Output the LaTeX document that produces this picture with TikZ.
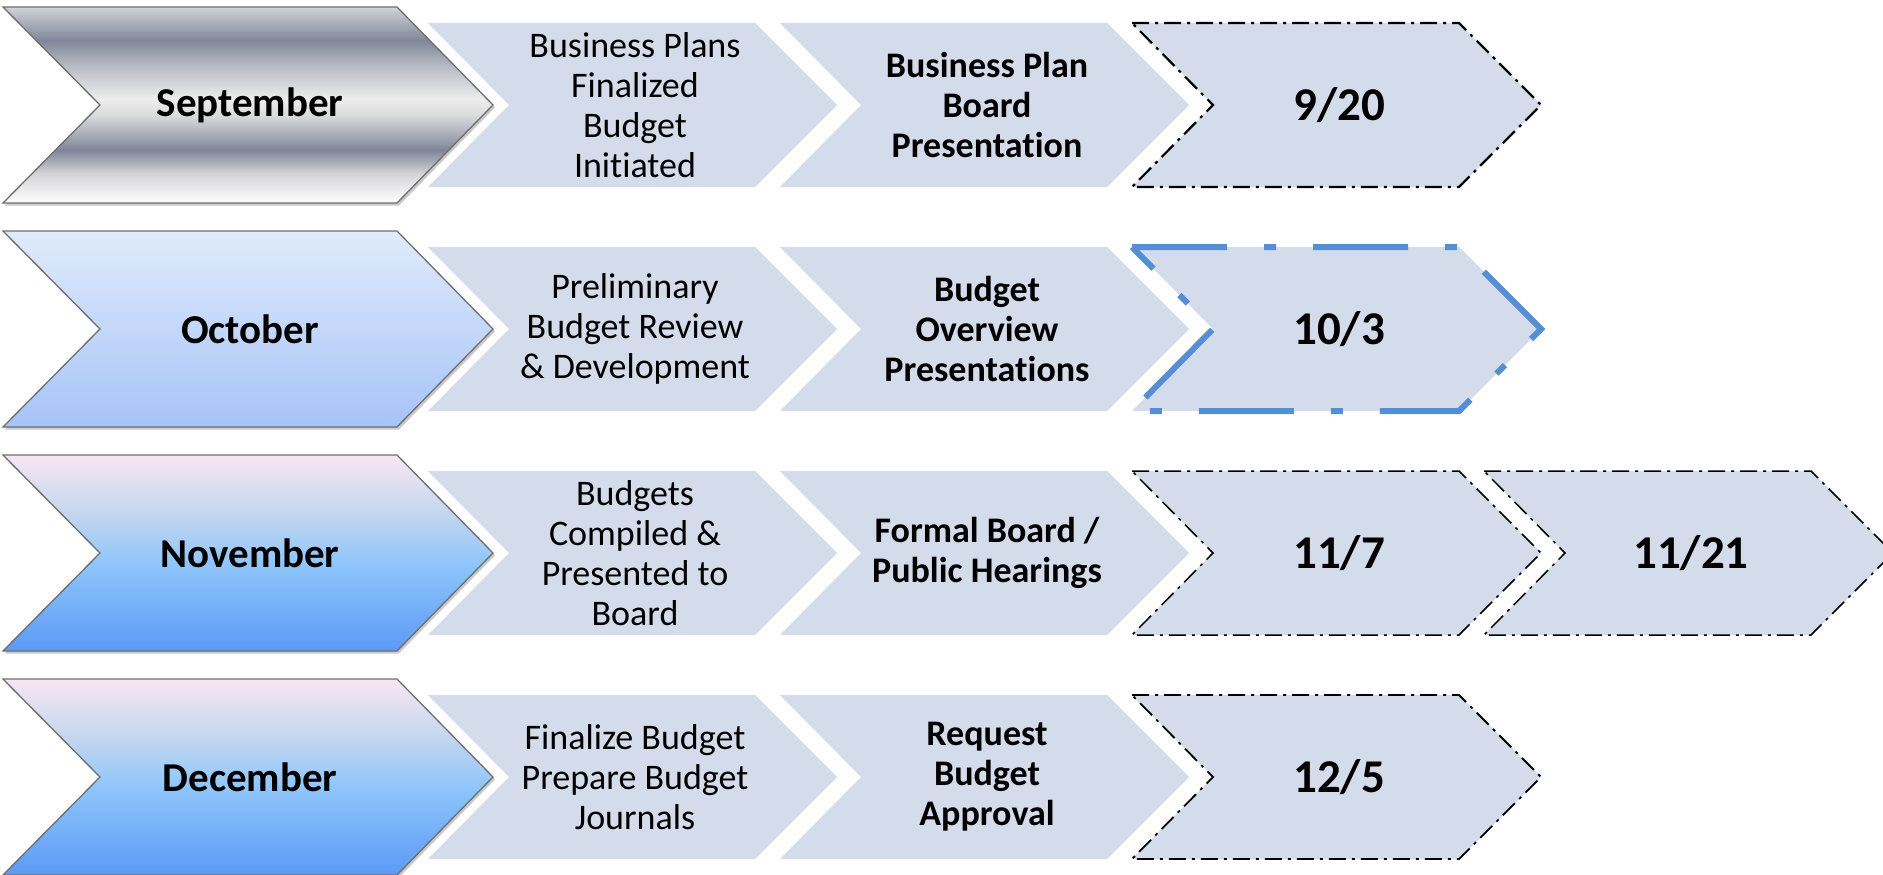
\documentclass[tikz,border=0pt]{standalone}
\usepackage{fontspec}
\setmainfont{Carlito}[Ligatures={NoCommon}]
\usetikzlibrary{shadows}

\definecolor{lightfill}{HTML}{D4DBEA}
\definecolor{blueline}{HTML}{558ED5}
\definecolor{chevline}{HTML}{6E6E6E}
% silver
\definecolor{svA}{HTML}{D2D3D7}
\definecolor{svB}{HTML}{80869A}
\definecolor{svC}{HTML}{B8BBC4}
\definecolor{svD}{HTML}{EDEDED}
\definecolor{svE}{HTML}{DCDCDE}
\definecolor{svF}{HTML}{A9ADB7}
\definecolor{svG}{HTML}{7F8598}
\definecolor{svH}{HTML}{D4D4D6}
\definecolor{svI}{HTML}{FFFFFF}
% october
\definecolor{ocTop}{HTML}{E0EAFA}
\definecolor{ocBot}{HTML}{A6C4F9}
% nov / dec
\definecolor{ndA}{HTML}{F8E6F3}
\definecolor{ndB}{HTML}{C3D6EE}
\definecolor{ndC}{HTML}{8EC5FC}
\definecolor{ndD}{HTML}{5B9AF6}

\pgfdeclareverticalshading{silvershade}{100bp}{%
  color(0bp)=(svI); color(25bp)=(svI); color(32.5bp)=(svH);
  color(38.5bp)=(svG); color(42.5bp)=(svF); color(47.5bp)=(svE);
  color(51.5bp)=(svD); color(60bp)=(svC); color(66.5bp)=(svB);
  color(75bp)=(svA); color(100bp)=(svA)}
\pgfdeclareverticalshading{octshade}{100bp}{%
  color(0bp)=(ocBot); color(25bp)=(ocBot); color(75bp)=(ocTop); color(100bp)=(ocTop)}
\pgfdeclareverticalshading{ndshade}{100bp}{%
  color(0bp)=(ndD); color(25bp)=(ndD); color(47bp)=(ndC);
  color(60bp)=(ndB); color(75bp)=(ndA); color(100bp)=(ndA)}

\tikzset{
  bigshape/.style={draw=chevline, line width=1.3pt, line join=miter,
    drop shadow={shadow xshift=2pt, shadow yshift=-2.5pt, opacity=.35, fill=black!60}},
  lightshape/.style={fill=lightfill},
  dateshape/.style={fill=lightfill, draw=black, line width=2.2pt,
    dash pattern=on 17pt off 6pt on 3pt off 6pt},
  bluedate/.style={fill=lightfill, draw=blueline, line width=6pt, line join=miter,
    dash pattern=on 95pt off 37pt on 12pt off 37pt},
  monthtext/.style={font=\fontsize{41}{48}\selectfont\bfseries, align=center},
  plaintext/.style={font=\fontsize{36}{40}\selectfont, align=center},
  boldtext/.style={font=\fontsize{36}{40}\selectfont\bfseries, align=center},
  datetext/.style={font=\fontsize{47}{52}\selectfont\bfseries, align=center},
}

\newcommand\bigchev[2]{% #1 style, #2 centre y
  \path[bigshape,#1] (3,#2-98) -- (397,#2-98) -- (493,#2) -- (397,#2+98)
    -- (3,#2+98) -- (100,#2) -- cycle;}
\newcommand\lchev[3]{% #1 style, #2 left x, #3 centre y
  \path[#1] (#2,#3-82) -- (#2+327,#3-82) -- (#2+409,#3) -- (#2+327,#3+82)
    -- (#2,#3+82) -- (#2+81,#3) -- cycle;}

\begin{document}
\begin{tikzpicture}[x=1pt,y=-1pt]
\useasboundingbox (0,0) rectangle (1883,875);
\begin{scope}
\clip (0,0) rectangle (1883,875);

% ---------- Row 1 : September ----------
\bigchev{shading=silvershade}{105}
\lchev{lightshape}{428}{105}
\lchev{lightshape}{780}{105}
\lchev{dateshape}{1132}{105}
\node[monthtext] (sep)  at (250,105) {September};
\node[plaintext] (sepa) at (428+207,105) {Business Plans\\Finalized\\Budget\\Initiated};
\node[boldtext]  (sepb) at (780+207,105) {Business Plan\\Board\\Presentation};
\node[datetext]  (sepc) at (1132+207,105) {9/20};

% ---------- Row 2 : October ----------
\bigchev{shading=octshade}{329}
\lchev{lightshape}{428}{329}
\lchev{lightshape}{780}{329}
\lchev{bluedate}{1132}{329}
\node[monthtext] (oct)  at (250,329) {October};
\node[plaintext] (octa) at (428+207,329) {Preliminary\\Budget Review\\\& Development};
\node[boldtext]  (octb) at (780+207,329) {Budget\\Overview\\Presentations};
\node[datetext]  (octc) at (1132+207,329) {10/3};

% ---------- Row 3 : November ----------
\bigchev{shading=ndshade}{553}
\lchev{lightshape}{428}{553}
\lchev{lightshape}{780}{553}
\lchev{dateshape,line width=1.5pt}{1132}{553}
\lchev{dateshape,line width=1.5pt}{1484}{553}
\node[monthtext] (nov)  at (250,553) {November};
\node[plaintext] (nova) at (428+207,553) {Budgets\\Compiled \&\\Presented to\\Board};
\node[boldtext]  (novb) at (780+207,553) {Formal Board /\\Public Hearings};
\node[datetext]  (novc) at (1132+207,553) {11/7};
\node[datetext]  (novd) at (1484+207,553) {11/21};

% ---------- Row 4 : December ----------
\bigchev{shading=ndshade}{777}
\lchev{lightshape}{428}{777}
\lchev{lightshape}{780}{777}
\lchev{dateshape,line width=1.8pt}{1132}{777}
\node[monthtext] (dec)  at (250,777) {December};
\node[plaintext] (deca) at (428+207,777) {Finalize Budget\\Prepare Budget\\Journals};
\node[boldtext]  (decb) at (780+207,777) {Request\\Budget\\Approval};
\node[datetext]  (decc) at (1132+207,777) {12/5};
\end{scope}
\end{tikzpicture}
\end{document}
